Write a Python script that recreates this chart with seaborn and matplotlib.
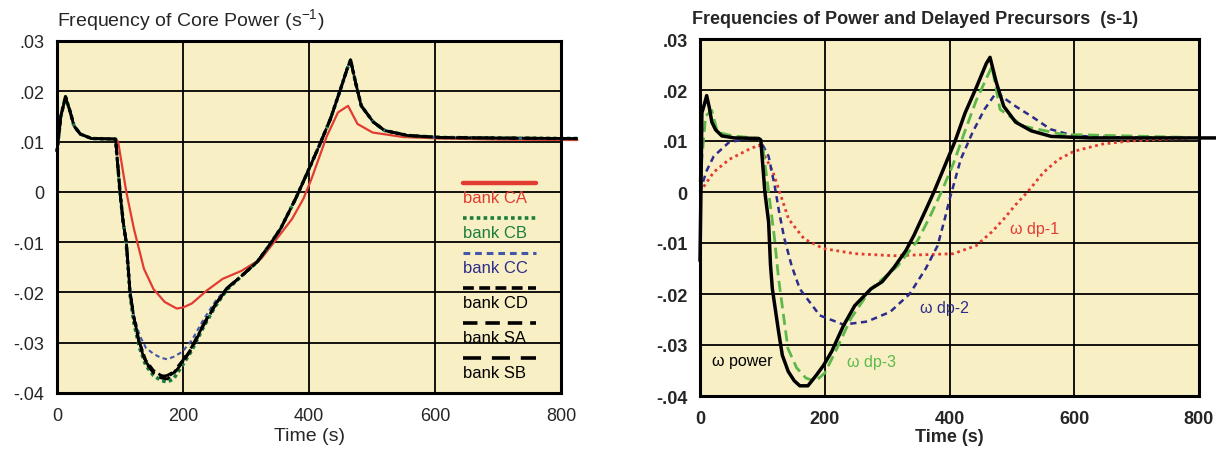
import matplotlib
matplotlib.use("Agg")
import matplotlib.pyplot as plt
import seaborn as sns
from matplotlib.lines import Line2D

# ---------------- data ----------------
x_ticks = [0, 200, 400, 600, 800]
x_tick_labels = ["0", "200", "400", "600", "800"]
y_ticks = [0.03, 0.02, 0.01, 0.0, -0.01, -0.02, -0.03, -0.04]
y_tick_labels = [".03", ".02", ".01", "0", "-.01", "-.02", "-.03", "-.04"]

# common start (all banks) before the rod motion
t_start = [0, 6, 13.5, 21, 27, 37, 55, 93]
w_start = [0.008, 0.015, 0.0189, 0.0159, 0.0131, 0.0115, 0.0106, 0.0105]

# the dip after the rod motion
t_dip = [100, 105, 110, 116, 122, 131, 141, 153, 165, 175, 185, 199, 214, 232, 251, 270]
w_dip_cb = [0.0, -0.006, -0.0105, -0.0205, -0.026, -0.031, -0.0345, -0.0365,
            -0.0375, -0.0378, -0.0372, -0.0345, -0.0315, -0.027, -0.0228, -0.0194]
w_dip_cc = [0.0, -0.006, -0.0100, -0.0195, -0.0245, -0.0285, -0.031, -0.0322,
            -0.033, -0.0333, -0.0328, -0.0318, -0.0295, -0.0255, -0.0218, -0.019]
w_dip_cd = [0.0, -0.006, -0.0100, -0.0200, -0.025, -0.030, -0.0335, -0.0355,
            -0.0365, -0.0368, -0.036, -0.0338, -0.031, -0.0265, -0.0225, -0.0192]
w_dip_sa = [0.0, -0.006, -0.0100, -0.0200, -0.025, -0.0305, -0.034, -0.036,
            -0.0370, -0.0372, -0.0362, -0.034, -0.0312, -0.0267, -0.0226, -0.0192]
w_dip_sb = [0.0, -0.006, -0.0100, -0.0200, -0.025, -0.030, -0.0338, -0.0358,
            -0.0368, -0.0365, -0.0358, -0.0336, -0.0308, -0.0264, -0.0224, -0.0191]

# common recovery and overshoot
t_tail = [294, 318, 336, 355, 379, 398, 416, 434, 450, 462, 466, 474, 483, 502,
          520, 557, 612, 703, 826]
w_tail = [-0.0166, -0.0139, -0.0108, -0.0073, -0.0013, 0.004, 0.0091, 0.0145,
          0.0204, 0.025, 0.0262, 0.0217, 0.0171, 0.0139, 0.0122, 0.0112, 0.0108,
          0.0107, 0.0106]

# bank CA
t_ca = [97, 110, 122, 138, 153, 171, 190, 200, 214, 238, 263, 293, 324, 349,
        373, 391, 404, 428, 446, 462, 477, 501, 550, 611, 700, 826]
w_ca = [0.01, 0.0, -0.0073, -0.0153, -0.0193, -0.0219, -0.0232, -0.023, -0.0222,
        -0.0196, -0.0173, -0.0157, -0.0133, -0.0093, -0.0054, -0.0014, 0.0026,
        0.011, 0.0158, 0.0171, 0.0135, 0.0118, 0.0109, 0.0106, 0.0104, 0.0103]

bank_names = ["bank CA", "bank CB", "bank CC", "bank CD", "bank SA", "bank SB"]

# power and delayed precursor frequencies
t_pow = [0, 1.5, 3, 7, 10.7, 15, 19, 25, 35, 55, 94, 97.5, 104, 110, 113, 116,
         126, 132, 141.5, 151, 160, 173, 186, 198, 211, 230, 248, 274, 292, 311,
         330, 343, 362, 375, 392, 409, 425, 443, 459, 465, 475, 487, 506, 531,
         563, 626, 835]
w_pow = [-0.0135, 0.0, 0.0155, 0.0172, 0.0189, 0.0165, 0.0137, 0.0122, 0.011,
         0.0106, 0.0105, 0.0102, 0.0, -0.0059, -0.0143, -0.019, -0.0274, -0.032,
         -0.0352, -0.037, -0.038, -0.038, -0.036, -0.034, -0.0313, -0.0262,
         -0.0223, -0.019, -0.0176, -0.0148, -0.0115, -0.0085, -0.0035, 0.0,
         0.005, 0.01, 0.0155, 0.0205, 0.0252, 0.0264, 0.0215, 0.0168, 0.0137,
         0.012, 0.0109, 0.0106, 0.0106]

t_dp3 = [0, 2, 9, 19, 28, 53, 94, 100, 110, 119, 126, 141, 155, 170, 185, 200,
         217, 242, 274, 317, 349, 368, 387, 406, 425, 443, 460, 468, 481, 519,
         581, 785]
w_dp3 = [0.002, 0.005, 0.0149, 0.016, 0.0117, 0.011, 0.0105, 0.0095, 0.0, -0.0086,
         -0.017, -0.0307, -0.0345, -0.0365, -0.0371, -0.0355, -0.0313, -0.0248,
         -0.019, -0.0145, -0.0095, -0.005, 0.0, 0.0055, 0.012, 0.018, 0.0225,
         0.0246, 0.0162, 0.0129, 0.0113, 0.0107]

t_dp2 = [0, 10, 22, 47, 79, 95, 110, 120, 127, 135, 147, 160, 192, 230, 268, 305,
         336, 362, 381, 393, 400, 418, 437, 456, 475, 506, 532, 562, 600, 680, 785]
w_dp2 = [0.0, 0.004, 0.007, 0.0098, 0.0104, 0.0105, 0.007, 0.001, -0.004, -0.009,
         -0.0145, -0.019, -0.0242, -0.026, -0.0254, -0.0235, -0.02, -0.015, -0.0105,
         -0.005, -0.0015, 0.0064, 0.0117, 0.0162, 0.0195, 0.0168, 0.0148, 0.0123,
         0.011, 0.0107, 0.0106]

t_dp1 = [0, 22, 47, 79, 95, 117, 135, 142, 167, 198, 249, 311, 406, 443, 468, 487,
         506, 525, 551, 575, 600, 645, 689, 751, 785]
w_dp1 = [0.0, 0.0039, 0.0064, 0.0084, 0.0092, 0.0039, -0.0027, -0.0053, -0.0092,
         -0.0111, -0.0121, -0.0125, -0.0121, -0.0105, -0.0078, -0.0053, -0.0025,
         0.0, 0.0039, 0.0064, 0.008, 0.0094, 0.01, 0.0104, 0.0105]

curve_labels = ["\u03c9 power", "\u03c9 dp-3", "\u03c9 dp-2", "\u03c9 dp-1"]

# ---------------- style ----------------
BG = "#F8F0C4"
RED = "#E23B32"
GREEN = "#1B7D3C"
BLUE = "#4357A8"
NAVY = "#2D2B8C"
LGREEN = "#5CB84A"

sns.set_theme(style="white", rc={"axes.facecolor": BG, "figure.facecolor": "white"})
plt.rcParams["font.family"] = ["Liberation Sans", "DejaVu Sans"]
plt.rcParams["mathtext.default"] = "regular"

fig = plt.figure(figsize=(12.16, 4.52), dpi=100)
ax1 = fig.add_axes([57 / 1216, 1 - 394 / 452, 504 / 1216, 352 / 452])
ax2 = fig.add_axes([700 / 1216, 1 - 397 / 452, 499 / 1216, 357 / 452])


def draw(ax, t, w, **kw):
    sns.lineplot(x=t, y=w, ax=ax, estimator=None, sort=False, clip_on=False, **kw)


# ---- left panel: bank by bank ----
styles = {
    "bank CB": dict(color=GREEN, lw=2.6, linestyle=(0, (1, 0.9)), dash_capstyle="butt"),
    "bank CC": dict(color=BLUE, lw=1.5, linestyle=(0, (2.2, 1.6))),
    "bank CD": dict(color="black", lw=2.0, linestyle=(0, (3, 1.5))),
    "bank SA": dict(color="black", lw=2.0, linestyle=(0, (4, 2.2))),
    "bank SB": dict(color="black", lw=2.0, linestyle=(0, (5, 3))),
}
dips = {"bank CB": w_dip_cb, "bank CC": w_dip_cc, "bank CD": w_dip_cd,
        "bank SA": w_dip_sa, "bank SB": w_dip_sb}
draw(ax1, t_start + t_ca, w_start + w_ca, color=RED, lw=1.6)
for name in ["bank CB", "bank CC", "bank CD", "bank SA", "bank SB"]:
    draw(ax1, t_start + t_dip + t_tail, w_start + dips[name] + w_tail, **styles[name])

# legend keys drawn above their labels
key_styles = [dict(color=RED, lw=3.2, linestyle="-")] + [
    dict(color=styles[n]["color"], lw=2.6 if n != "bank CC" else 2.2,
         linestyle=styles[n]["linestyle"]) for n in bank_names[1:]]
text_colors = [RED, GREEN, NAVY, "black", "black", "black"]
for i, (name, ks, tc) in enumerate(zip(bank_names, key_styles, text_colors)):
    yk = 0.597 - i * 0.0994
    ax1.add_line(Line2D([0.806, 0.950], [yk, yk], transform=ax1.transAxes, **ks))
    ax1.text(0.806, yk - 0.041, name, transform=ax1.transAxes, color=tc,
             fontsize=12, ha="left", va="center")

# ---- right panel: power and precursors ----
draw(ax2, t_dp1, w_dp1, color=RED, lw=2.0, linestyle=(0, (1, 1.3)))
draw(ax2, t_dp2, w_dp2, color=NAVY, lw=1.8, linestyle=(0, (2.5, 1.8)))
draw(ax2, t_dp3, w_dp3, color=LGREEN, lw=2.0, linestyle=(0, (4, 2)))
draw(ax2, t_pow, w_pow, color="black", lw=2.5)

label_pos = [(19, -0.033, "black"), (236, -0.0332, LGREEN),
             (352, -0.0227, NAVY), (497, -0.0072, RED)]
for (tx, wy, c), s in zip(label_pos, curve_labels):
    ax2.text(tx, wy, s, color=c, fontsize=11.5, ha="left", va="center")

# ---- axes formatting ----
for ax, bold in [(ax1, False), (ax2, True)]:
    ax.set_xlim(0, 800)
    ax.set_ylim(-0.04, 0.03)
    ax.set_xticks(x_ticks)
    ax.set_xticklabels(x_tick_labels, fontsize=13, fontweight="bold" if bold else "normal")
    ax.set_yticks(y_ticks)
    ax.set_yticklabels(y_tick_labels, fontsize=13, fontweight="bold" if bold else "normal")
    ax.tick_params(axis="both", length=0)
    ax.tick_params(axis="x", pad=10)
    ax.tick_params(axis="y", pad=9)
    ax.grid(True, color="black", lw=1.3)
    ax.set_axisbelow(True)
    for sp in ax.spines.values():
        sp.set_visible(True)
        sp.set_color("black")
        sp.set_linewidth(2.2)
    ax.set_xlabel("Time (s)", fontsize=14 if not bold else 13,
                  fontweight="bold" if bold else "normal", labelpad=2 if not bold else 1)
    ax.set_ylabel("")

fig.text(57 / 1216, 1 - 20 / 452, "Frequency of Core Power (s$^{-1}$)",
         fontsize=14, ha="left", va="center")
fig.text(692 / 1216, 1 - 19 / 452, "Frequencies of Power and Delayed Precursors  (s-1)",
         fontsize=13, fontweight="bold", ha="left", va="center")

fig.savefig("out.png", dpi=100)
